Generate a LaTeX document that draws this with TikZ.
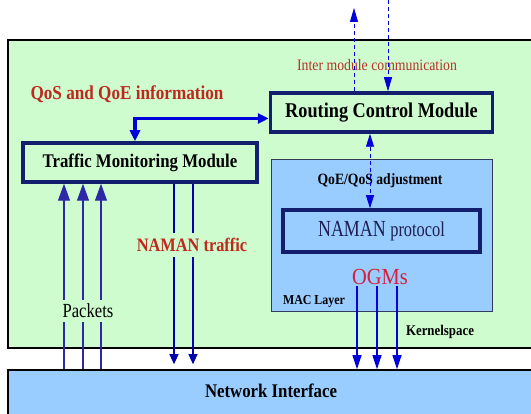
\documentclass[tikz,border=0pt]{standalone}
\usepackage{fontspec}
\setmainfont{Liberation Serif}
\usetikzlibrary{arrows.meta,calc}
\definecolor{kgreen}{RGB}{206,252,206}
\definecolor{kblue}{RGB}{153,204,255}
\definecolor{navy}{RGB}{20,30,110}
\definecolor{navytext}{RGB}{30,30,80}
\definecolor{qosred}{RGB}{190,40,30}
\definecolor{imcred}{RGB}{180,50,40}
\definecolor{ogmred}{RGB}{215,30,60}
\definecolor{arrblue}{RGB}{0,0,220}
\definecolor{lineblue}{RGB}{45,40,165}
\definecolor{macborder}{RGB}{50,60,90}
\newcommand{\sqz}[2]{\scalebox{#1}[1]{#2}}
\begin{document}
\begin{tikzpicture}[x=1pt,y=-1pt,
  module/.style={draw=navy,line width=3.5pt,fill=kgreen,inner sep=0pt},
  plainbox/.style={inner sep=0pt},
  lbl/.style={inner sep=1pt},
  dasharrow/.style={draw=arrblue,line width=0.8pt,dash pattern=on 4pt off 3pt,
    arrows={-Triangle[length=14pt,width=8pt]}},
  pkline/.style={draw=lineblue,line width=1.1pt},
  nline/.style={draw=arrblue!80!black,line width=1.1pt},
  oline/.style={draw=arrblue,line width=1.3pt}
]
\useasboundingbox (0,0) rectangle (531,414);
\clip (0,0) rectangle (531,414);
\fill[white] (0,0) rectangle (531,414);

% containers
\node[plainbox,draw=black,line width=2.6pt,fill=kgreen,minimum width=537pt,minimum height=308pt] (kern) at (276.5,194) {};
\node[plainbox,draw=black,line width=1.6pt,fill=kblue,minimum width=537pt,minimum height=50pt] (net) at (276.5,395) {};
\node[lbl,font=\bfseries\fontsize{19.3}{22}\selectfont] (nettxt) at (271,391) {\sqz{0.87}{Network Interface}};
\node[plainbox,draw=macborder,line width=1pt,fill=kblue,minimum width=221pt,minimum height=152pt] (mac) at (381.5,236) {};

% modules
\node[module,minimum width=222pt,minimum height=39pt,font=\bfseries\fontsize{21}{24}\selectfont] (rcm) at (381.5,112.5) {\sqz{0.87}{Routing Control Module}};
\node[module,minimum width=234pt,minimum height=39pt,font=\bfseries\fontsize{19.3}{22}\selectfont] (tmm) at (140,162.5) {\sqz{0.87}{Traffic Monitoring Module}};
\node[module,fill=kblue,minimum width=197pt,minimum height=42pt,text=navytext,
  font=\fontsize{23}{26}\selectfont] (naman) at (381.5,231) {\sqz{0.78}{NAMAN {\fontsize{21}{24}\selectfont protocol}}};

% labels
\node[lbl,text=qosred,font=\bfseries\fontsize{19.7}{22}\selectfont] (qos) at (127,94) {\sqz{0.87}{QoS and QoE information}};
\node[lbl,text=imcred,font=\fontsize{16}{18}\selectfont] (imc) at (377,65) {\sqz{0.86}{Inter module communication}};
\node[lbl,font=\bfseries\fontsize{15.7}{18}\selectfont] (adj) at (380,181) {\sqz{0.87}{QoE/QoS adjustment}};
\node[lbl,text=ogmred,font=\fontsize{23}{26}\selectfont] (ogm) at (380,277) {\sqz{0.89}{OGMs}};
\node[lbl,font=\bfseries\fontsize{13.7}{16}\selectfont] (macl) at (314,301) {\sqz{0.87}{MAC Layer}};
\node[lbl,font=\bfseries\fontsize{14.8}{17}\selectfont] (ks) at (440,332) {\sqz{0.87}{Kernelspace}};

% QoS/QoE exchange
\coordinate (bend) at (135,118.5);
\draw[draw=arrblue,line width=3.5pt,arrows={Triangle[length=11pt,width=10pt]-Triangle[length=11pt,width=10pt]}]
  (tmm.north -| bend) |- (rcm.west |- bend);

% inter module communication
\coordinate (upx) at (354,8);
\coordinate (dnx) at (388,0);
\draw[dasharrow] (rcm.north -| upx) -- (upx);
\draw[dasharrow] (dnx) -- (rcm.north -| dnx);
% QoE/QoS adjustment
\coordinate (adjx) at (370,0);
\draw[dasharrow,arrows={Triangle[length=13pt,width=8pt]-Triangle[length=13pt,width=8pt]}]
  (rcm.south -| adjx) -- (naman.north -| adjx);

% packets
\foreach \xx [count=\i] in {64,83,101}{
  \coordinate (p\i) at (\xx,0);
  \draw[pkline,arrows={-Triangle[length=17pt,width=12pt]}] (net.north -| p\i) -- (tmm.south -| p\i);
}
% NAMAN traffic
\foreach \xx [count=\i] in {174,193}{
  \coordinate (n\i) at (\xx,0);
  \draw[nline,arrows={-Triangle[length=10pt,width=9pt]},shorten >=5pt] (tmm.south -| n\i) -- (net.north -| n\i);
}
% OGMs
\foreach \xx [count=\i] in {357,377,397}{
  \coordinate (o\i) at (\xx,0);
  \draw[oline,arrows={-Triangle[length=14pt,width=9pt]}] (ogm.south -| o\i) -- (net.north -| o\i);
}

\node[lbl,fill=kgreen,inner xsep=3pt,inner ysep=4pt,font=\fontsize{20}{22}\selectfont] (pk) at (88,311) {\sqz{0.83}{Packets}};
\node[lbl,fill=kgreen,inner ysep=5pt,inner xsep=2pt,text=qosred,font=\bfseries\fontsize{19}{21}\selectfont] (nt) at (192,245) {\sqz{0.86}{NAMAN traffic}};
\end{tikzpicture}
\end{document}
